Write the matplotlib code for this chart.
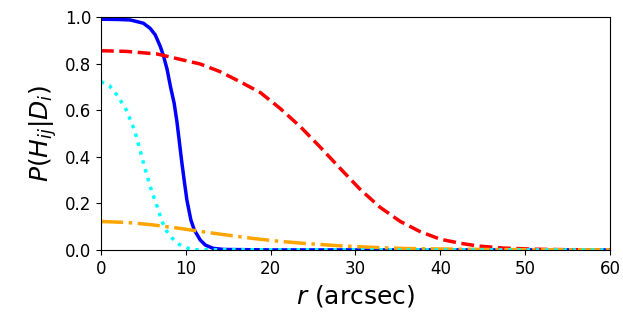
import numpy as np
import matplotlib
matplotlib.use("Agg")
import matplotlib.pyplot as plt

# values
r_blue = [0, 2, 3.45, 5.0, 5.8, 6.4, 7.0, 7.4, 7.8, 8.2, 8.63, 8.95, 9.22,
          9.5, 9.81, 10.13, 10.6, 11.0, 11.7, 12.3, 13.2, 14.5, 20, 30, 40,
          50, 60]
p_blue = [0.990, 0.989, 0.987, 0.973, 0.951, 0.923, 0.873, 0.83, 0.775,
          0.70, 0.63, 0.553, 0.472, 0.386, 0.30, 0.215, 0.129, 0.086,
          0.043, 0.021, 0.007, 0.002, 0, 0, 0, 0, 0]

r_red = [0, 3, 6.6, 10.5, 11.7, 14.05, 16.4, 18.8, 21.1, 23.5, 25.8, 28.2,
         30.5, 32.9, 35.3, 37.6, 40.0, 42.3, 44.4, 47.4, 51.3, 55, 60]
p_red = [0.855, 0.852, 0.841, 0.808, 0.798, 0.765, 0.722, 0.675, 0.608,
         0.529, 0.443, 0.35, 0.262, 0.183, 0.122, 0.079, 0.046, 0.029,
         0.017, 0.008, 0.003, 0.001, 0.0005]

r_cyan = [0, 1, 2, 3, 4, 4.5, 5, 5.5, 6, 6.5, 7, 7.2, 7.7, 8.4, 9.2, 10.3,
          11, 60]
p_cyan = [0.722, 0.705, 0.66, 0.60, 0.51, 0.443, 0.375, 0.31, 0.25, 0.20,
          0.145, 0.122, 0.083, 0.05, 0.024, 0.007, 0.001, 0]

r_orange = [0, 3, 6, 9, 12, 15, 18, 21, 24, 28, 32, 36, 40, 45, 50, 60]
p_orange = [0.122, 0.118, 0.108, 0.094, 0.078, 0.063, 0.049, 0.037, 0.028,
            0.018, 0.011, 0.006, 0.004, 0.002, 0.001, 0.0003]

fig = plt.figure(figsize=(6.23, 3.25), dpi=100)
ax = fig.add_axes([0.162, 0.231, 0.817, 0.717])

ax.plot(r_blue, p_blue, color='blue', ls='-', lw=2.5)
ax.plot(r_red, p_red, color='red', ls='--', lw=2.5)
ax.plot(r_orange, p_orange, color='orange', ls='-.', lw=2.5)
ax.plot(r_cyan, p_cyan, color='cyan', ls=':', lw=2.5)

ax.set_xlim(0, 60)
ax.set_ylim(0, 1)
ax.set_yticks(np.arange(0, 1.01, 0.2))
ax.set_xticks(np.arange(0, 61, 10))
ax.tick_params(labelsize=12)
ax.set_xlabel(r'$r$ (arcsec)', fontsize=18)
ax.set_ylabel(r'$P(H_{ij}|D_i)$', fontsize=18)

fig.savefig('out.png', dpi=100)
